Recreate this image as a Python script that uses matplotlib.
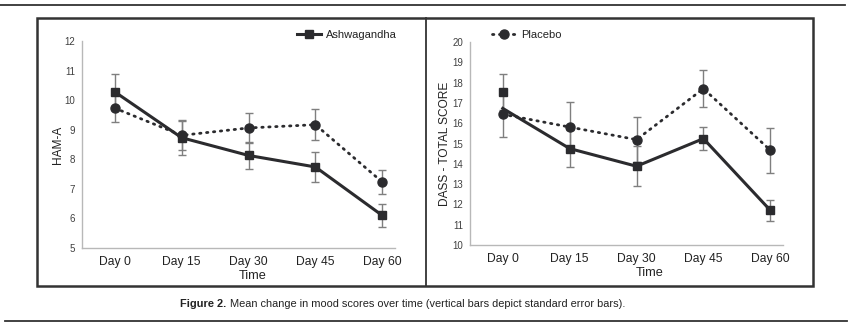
import matplotlib
matplotlib.use("Agg")
import matplotlib.pyplot as plt
from matplotlib.lines import Line2D
from matplotlib.patches import Rectangle

plt.rcParams['font.family'] = ['Liberation Sans', 'DejaVu Sans']

days = ["Day 0", "Day 15", "Day 30", "Day 45", "Day 60"]

# HAM-A
ham_ash = [10.28, 8.73, 8.13, 7.74, 6.10]
ham_ash_err = [0.60, 0.60, 0.47, 0.52, 0.40]
ham_pla = [9.73, 8.81, 9.06, 9.17, 7.23]
ham_pla_err = [0.48, 0.50, 0.52, 0.52, 0.40]

# DASS total score
dass_ash_line = [16.73, 14.75, 13.88, 15.24, 11.71]
dass_ash_marker = [17.54, 14.75, 13.88, 15.24, 11.71]
dass_ash_err = [0.87, 0.90, 0.98, 0.57, 0.53]
dass_pla = [16.44, 15.81, 15.19, 17.70, 14.67]
dass_pla_err = [1.10, 1.22, 1.12, 0.92, 1.10]

DARK = '#2b2b2e'
ERR = '#7f7f7f'
SPINE = '#b8b8b8'
TICK = '#404040'

fig = plt.figure(figsize=(8.5, 3.27), dpi=100)
W, H = 850, 327

def fx(px):
    return px / W

def fy(py):
    return 1 - py / H

# Frame and rules
fig.add_artist(Line2D([fx(0), fx(845)], [fy(5), fy(5)], color='#333333', lw=1.3))
fig.add_artist(Line2D([fx(5), fx(847)], [fy(321), fy(321)], color='#333333', lw=1.3))
fig.add_artist(Rectangle((fx(37), fy(286)), fx(813) - fx(37), fy(18) - fy(286),
                         fill=False, edgecolor='#333333', lw=1.8))
fig.add_artist(Line2D([fx(426), fx(426)], [fy(18), fy(286)], color='#333333', lw=1.3))

x = list(range(len(days)))

def style_axes(ax, ylo, yhi, ylabel, label_x):
    ax.set_xlim(-0.49, 4.19)
    ax.set_ylim(ylo, yhi)
    ax.set_xticks(x)
    ax.set_xticklabels(days, fontsize=8.7, color='#222222')
    ax.set_yticks(range(ylo, yhi + 1))
    ax.tick_params(axis='y', labelsize=7.0, labelcolor=TICK, length=0, pad=5)
    ax.tick_params(axis='x', length=0, pad=6)
    for s in ['top', 'right']:
        ax.spines[s].set_visible(False)
    for s in ['left', 'bottom']:
        ax.spines[s].set_color(SPINE)
        ax.spines[s].set_linewidth(1.0)
    ax.set_xlabel('Time', fontsize=9.2, color='#222222', labelpad=1)
    ax.xaxis.label.set_x(label_x)
    ax.set_ylabel(ylabel, fontsize=8.6, color='#222222', labelpad=0.5)
    ax.patch.set_alpha(0)

dot_ls = (0, (0.5, 2.0))

def draw_panel(ax, pla, pla_err, ash_line, ash_marker, ash_err):
    ax.errorbar(x, pla, yerr=pla_err, fmt='none', ecolor=ERR, elinewidth=1.0,
                capsize=2.6, capthick=1.0, zorder=2)
    ax.errorbar(x, ash_marker, yerr=ash_err, fmt='none', ecolor=ERR, elinewidth=1.0,
                capsize=2.6, capthick=1.0, zorder=2)
    ax.plot(x, pla, color=DARK, lw=2.0, linestyle=dot_ls, dash_capstyle='round',
            marker='o', markersize=6.5, zorder=3)
    ax.plot(x, ash_line, color=DARK, lw=2.2, zorder=4)
    ax.plot(x, ash_marker, color=DARK, lw=0, marker='s', markersize=5.5, zorder=4)

# Left panel
ax1 = fig.add_axes([fx(82), fy(248), fx(395) - fx(82), fy(41) - fy(248)])
style_axes(ax1, 5, 12, 'HAM-A', 0.545)
draw_panel(ax1, ham_pla, ham_pla_err, ham_ash, ham_ash, ham_ash_err)

# Right panel
ax2 = fig.add_axes([fx(470), fy(245), fx(783) - fx(470), fy(42) - fy(245)])
style_axes(ax2, 10, 20, 'DASS - TOTAL SCORE', 0.575)
draw_panel(ax2, dass_pla, dass_pla_err, dass_ash_line, dass_ash_marker, dass_ash_err)

# Legends
h_ash = Line2D([], [], color=DARK, lw=2.2, marker='s', markersize=5.5)
h_pla = Line2D([], [], color=DARK, lw=2.0, linestyle=dot_ls, dash_capstyle='round',
               marker='o', markersize=6.5)
leg1 = fig.legend([h_ash], ['Ashwagandha'], loc='center left',
                  bbox_to_anchor=(fx(297), fy(35)), frameon=False, fontsize=8,
                  handlelength=2.2, handletextpad=0.4, borderpad=0, borderaxespad=0)
leg2 = fig.legend([h_pla], ['Placebo'], loc='center left',
                  bbox_to_anchor=(fx(492), fy(35)), frameon=False, fontsize=8,
                  handlelength=2.2, handletextpad=0.4, borderpad=0, borderaxespad=0)
for t in leg1.get_texts() + leg2.get_texts():
    t.set_color('#222222')

# Caption
t1 = fig.text(fx(180), fy(304), 'Figure 2.', fontsize=7.9, fontweight='bold',
              color='#222222', va='center', ha='left')
fig.canvas.draw()
bb = t1.get_window_extent(renderer=fig.canvas.get_renderer())
fig.text((bb.x1 + 4) / W, fy(304),
         'Mean change in mood scores over time (vertical bars depict standard error bars).',
         fontsize=7.9, color='#222222', va='center', ha='left')

fig.savefig('out.png', dpi=100)
